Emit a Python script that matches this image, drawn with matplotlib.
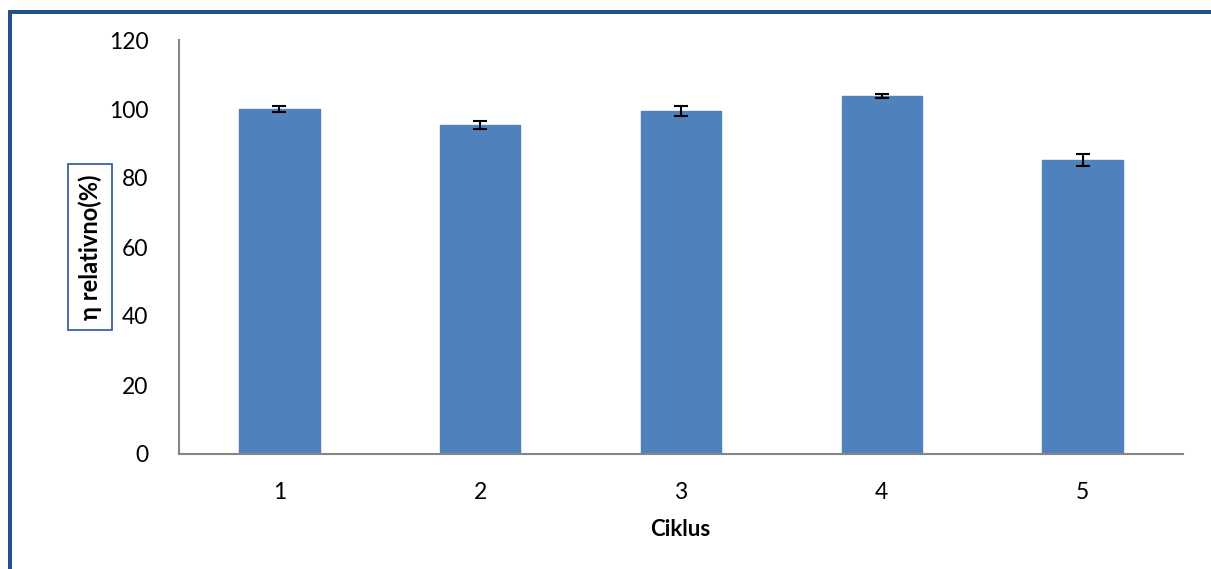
import matplotlib.pyplot as plt
from matplotlib.patches import Rectangle

# data
cycles = [1, 2, 3, 4, 5]
eta_rel = [100.0, 95.4, 99.5, 103.7, 85.2]
eta_err = [0.8, 1.2, 1.5, 0.6, 1.7]
tick_labels = ['1', '2', '3', '4', '5']

plt.rcParams['font.family'] = ['Lato', 'DejaVu Sans']

fig = plt.figure(figsize=(12.11, 5.69), dpi=100)
ax = fig.add_axes([179 / 1211, 1 - 454 / 569, 1004 / 1211, 414 / 569])

ax.bar(cycles, eta_rel, width=0.4, color='#4F81BD', edgecolor='#4F81BD',
       yerr=eta_err, capsize=5, error_kw=dict(ecolor='black', elinewidth=1.5, capthick=1.5))

ax.set_xlim(0.5, 5.5)
ax.set_ylim(0, 120)
ax.set_yticks(range(0, 121, 20))
ax.set_xticks(cycles)
ax.set_xticklabels(tick_labels)
ax.tick_params(length=0, labelsize=16.5)
ax.tick_params(axis='x', pad=20)
ax.tick_params(axis='y', pad=22)

for s in ['top', 'right']:
    ax.spines[s].set_visible(False)
for s in ['left', 'bottom']:
    ax.spines[s].set_color('#868686')
    ax.spines[s].set_linewidth(1.5)

fig.text(680 / 1211, 1 - 530 / 569, 'Ciklus', ha='center', va='center',
         fontsize=16, fontweight='bold')
fig.text(90 / 1211, 1 - 247 / 569, 'η relativno(%)', ha='center', va='center',
         rotation=90, fontsize=17, fontweight='bold',
         bbox=dict(boxstyle='square,pad=0.45', facecolor='white', edgecolor='#2A5597', linewidth=1.2))

# outer frame (left and top edges)
fig.add_artist(Rectangle((7.5 / 1211, 0), 4.5 / 1211, 1 - 10 / 569,
                         transform=fig.transFigure, color='#26508C', lw=0))
fig.add_artist(Rectangle((7.5 / 1211, 1 - 13.5 / 569), 1 - 7.5 / 1211, 3.5 / 569,
                         transform=fig.transFigure, color='#26508C', lw=0))

fig.savefig('out.png', dpi=100)
